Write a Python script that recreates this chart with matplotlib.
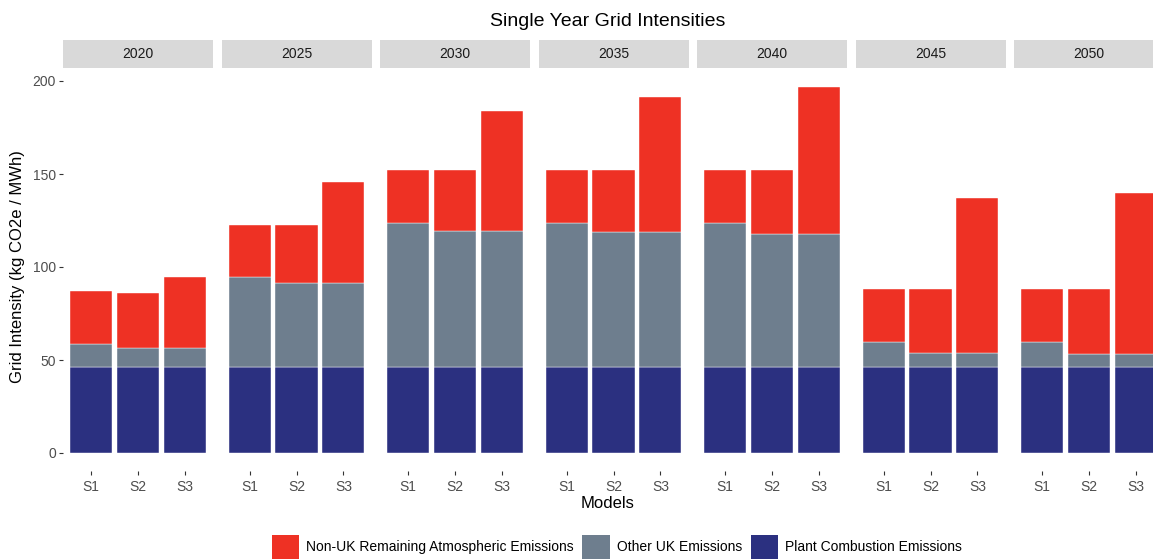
import numpy as np
import matplotlib.pyplot as plt
from matplotlib.patches import Patch, Rectangle

plt.rcParams['font.family'] = ['Liberation Sans', 'DejaVu Sans']

# ------------------------------------------------------------
# Data
# ------------------------------------------------------------
years = ["2020", "2025", "2030", "2035", "2040", "2045", "2050"]
models = ["S1", "S2", "S3"]

plant = [
    [46, 46, 46],
    [46, 46, 46],
    [46, 46, 46],
    [46, 46, 46],
    [46, 46, 46],
    [46, 46, 46],
    [46, 46, 46],
]
# top of the grey segment (cumulative plant + other UK)
other_top = [
    [58.8, 56.6, 56.6],
    [94.4, 91.6, 91.6],
    [123.5, 119.6, 119.6],
    [123.8, 118.6, 118.6],
    [123.8, 118.0, 118.0],
    [59.8, 53.6, 53.6],
    [59.8, 53.0, 53.0],
]
# total bar height
total = [
    [87.1, 86.2, 94.8],
    [122.6, 122.6, 145.9],
    [152.2, 152.2, 184.0],
    [152.2, 152.2, 191.2],
    [152.2, 152.2, 196.6],
    [88.2, 88.2, 136.9],
    [88.2, 88.2, 140.0],
]

other_uk = np.array(other_top) - np.array(plant)
non_uk = np.array(total) - np.array(other_top)

c_red = "#EE3124"
c_grey = "#6E7E8E"
c_navy = "#2B3080"
txt_grey = "#4D4D4D"

# ------------------------------------------------------------
# Layout in pixels
# ------------------------------------------------------------
W, H = 1153, 559
fig = plt.figure(figsize=(W / 100, H / 100), dpi=100)

ymin, ymax = -9.83, 206.4
px_per_unit = 1.86
y0_pix = 453
top_pix = y0_pix - ymax * px_per_unit
bot_pix = y0_pix - ymin * px_per_unit
panel_w = 150
step = 158.5
left0 = 63
strip_top, strip_bot = 40, top_pix - 1


def fx(p):
    return p / W


def fy(p):
    return 1 - p / H


x = np.arange(1, 4)
for i, yr in enumerate(years):
    l = left0 + i * step
    ax = fig.add_axes([fx(l), fy(bot_pix), fx(panel_w), (bot_pix - top_pix) / H])
    ax.bar(x, plant[i], width=0.9, color=c_navy, edgecolor="white", linewidth=0.3)
    ax.bar(x, other_uk[i], bottom=plant[i], width=0.9, color=c_grey,
           edgecolor="white", linewidth=0.3)
    ax.bar(x, non_uk[i], bottom=other_top[i], width=0.9, color=c_red,
           edgecolor="white", linewidth=0.3)
    ax.set_xlim(0.4, 3.6)
    ax.set_ylim(ymin, ymax)
    ax.set_xticks(x)
    ax.set_xticklabels(models, fontsize=10, color=txt_grey)
    ax.tick_params(axis="x", length=3, width=0.8, color="#333333", pad=3)
    for s in ax.spines.values():
        s.set_visible(False)
    if i == 0:
        ax.set_yticks([0, 50, 100, 150, 200])
        ax.set_yticklabels(["0", "50", "100", "150", "200"], fontsize=10, color=txt_grey)
        ax.tick_params(axis="y", length=3, width=0.8, color="#333333", pad=2)
    else:
        ax.set_yticks([])

    # facet strip
    fig.patches.append(Rectangle((fx(l), fy(strip_bot)), fx(panel_w),
                                 (strip_bot - strip_top) / H,
                                 transform=fig.transFigure, facecolor="#D9D9D9",
                                 edgecolor="none"))
    fig.text(fx(l + panel_w / 2), fy((strip_top + strip_bot) / 2), yr,
             ha="center", va="center", fontsize=10, color="#1A1A1A")

fig.text(fx(608), fy(22), "Single Year Grid Intensities", ha="center", va="center",
         fontsize=14, color="black")
fig.text(fx(608), fy(504), "Models", ha="center", va="center", fontsize=12)
fig.text(fx(18), fy(267), "Grid Intensity (kg CO2e / MWh)", ha="center", va="center",
         rotation=90, fontsize=12)

handles = [
    Patch(facecolor=c_red, label="Non-UK Remaining Atmospheric Emissions"),
    Patch(facecolor=c_grey, label="Other UK Emissions"),
    Patch(facecolor=c_navy, label="Plant Combustion Emissions"),
]
fig.legend(handles=handles, loc="center", bbox_to_anchor=(fx(617), fy(547)),
           ncol=3, frameon=False, fontsize=10, handlelength=2.0, handleheight=2.2,
           handletextpad=0.5, columnspacing=0.6, borderaxespad=0)

fig.savefig("out.png", dpi=100)
